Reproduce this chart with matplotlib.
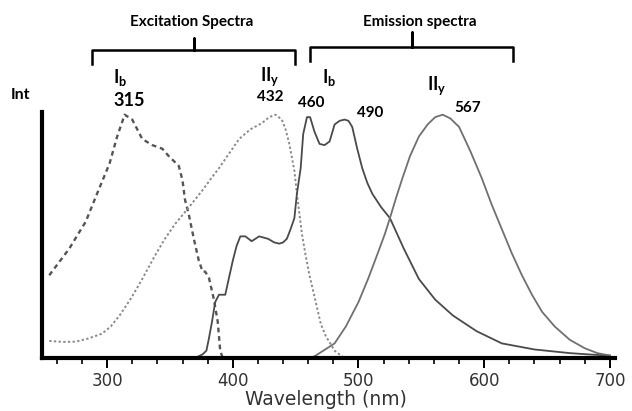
import matplotlib.pyplot as plt
from matplotlib.ticker import MultipleLocator

ex_b_nm = [254, 262, 270, 277, 283, 292, 302, 308, 314, 320, 328, 336, 344, 349, 357, 360, 362, 365, 369, 373, 376, 378, 381, 385, 388, 390, 392]
ex_b_int = [0.34, 0.395, 0.45, 0.51, 0.56, 0.675, 0.80, 0.91, 1.00, 0.98, 0.90, 0.875, 0.86, 0.83, 0.79, 0.73, 0.65, 0.59, 0.49, 0.40, 0.355, 0.355, 0.33, 0.24, 0.15, 0.03, 0.0]

ex_y_nm = [254, 265, 275, 285, 296, 303, 310, 319, 328, 338, 346, 354, 362, 369, 376, 383, 389, 397, 405, 414, 423, 429, 434, 439, 442, 445, 449, 451, 455, 458, 461, 466, 470, 474, 481, 486, 489]
ex_y_int = [0.07, 0.066, 0.067, 0.08, 0.10, 0.13, 0.175, 0.245, 0.325, 0.42, 0.49, 0.55, 0.60, 0.645, 0.69, 0.74, 0.78, 0.84, 0.90, 0.94, 0.965, 0.99, 1.00, 0.98, 0.94, 0.88, 0.77, 0.675, 0.51, 0.42, 0.34, 0.23, 0.14, 0.09, 0.03, 0.01, 0.0]

em_b_nm = [366, 372, 376, 379, 381, 383.5, 386, 389, 394, 397, 400, 403, 406, 410, 415, 418, 421, 428, 433, 437, 440, 443, 446, 449, 451, 454, 456, 459, 461.5, 465, 469, 473, 477, 481, 485, 489, 492, 495, 499, 503, 507, 511, 518, 525, 536, 548, 561, 575, 594, 614, 640, 668, 685, 700]
em_b_int = [0.0, 0.005, 0.015, 0.03, 0.08, 0.15, 0.23, 0.26, 0.26, 0.33, 0.40, 0.46, 0.50, 0.50, 0.48, 0.49, 0.50, 0.49, 0.475, 0.47, 0.475, 0.49, 0.53, 0.575, 0.675, 0.78, 0.92, 0.99, 0.99, 0.93, 0.88, 0.875, 0.89, 0.96, 0.975, 0.98, 0.975, 0.95, 0.86, 0.78, 0.72, 0.675, 0.62, 0.575, 0.45, 0.325, 0.24, 0.175, 0.11, 0.06, 0.035, 0.02, 0.014, 0.01]

em_y_nm = [462, 466, 472, 481, 490, 500, 508, 516, 521, 525, 530, 535, 541, 548, 555, 561, 567, 573, 580, 589, 598, 606, 614, 622, 630, 638, 646, 656, 668, 680, 690, 700]
em_y_int = [0.0, 0.01, 0.03, 0.06, 0.13, 0.23, 0.33, 0.44, 0.51, 0.575, 0.66, 0.74, 0.83, 0.91, 0.96, 0.99, 1.00, 0.985, 0.95, 0.85, 0.74, 0.63, 0.53, 0.43, 0.34, 0.26, 0.19, 0.13, 0.075, 0.04, 0.02, 0.01]

fig = plt.figure(figsize=(6.32, 4.11), dpi=100)
ax = fig.add_axes([0.066, 0.129, 0.907, 0.599])

ax.plot(ex_b_nm, ex_b_int, color='#555555', lw=1.7, ls=(0, (2.0, 1.6)))
ax.plot(ex_y_nm, ex_y_int, color='#8a8a8a', lw=1.4, ls=(0, (1.2, 1.2)))
ax.plot(em_b_nm, em_b_int, color='#4a4a4a', lw=1.3)
ax.plot(em_y_nm, em_y_int, color='#707070', lw=1.3)

ax.set_xlim(248, 704)
ax.set_ylim(0, 1.012)
ax.xaxis.set_major_locator(MultipleLocator(100))
ax.xaxis.set_minor_locator(MultipleLocator(20))
ax.set_yticks([])
for s in ['top', 'right']:
    ax.spines[s].set_visible(False)
ax.spines['left'].set_linewidth(3)
ax.spines['bottom'].set_linewidth(3)
ax.tick_params(axis='x', which='major', length=7, width=1.4, direction='out',
               labelsize=12, labelcolor='#333333', pad=3)
ax.tick_params(axis='x', which='minor', length=4, width=1.2, direction='out')

W, H = 632, 411
ax.set_xlabel('Wavelength (nm)', fontsize=13.5, color='#333333', va='center')
ax.xaxis.set_label_coords(326 / W, 1 - 399 / H, transform=fig.transFigure)

# annotations in figure pixel coordinates
def ftext(x, y, s, size=10, **kw):
    fig.text(x / W, 1 - y / H, s, fontsize=size, family='Lato', fontweight='bold',
             ha='center', va='center', **kw)

ftext(192, 22, 'Excitation Spectra', 11)
ftext(420, 22, 'Emission spectra', 11)

def bracket(x0, x1, ytop, ybot, ymid):
    xm = (x0 + x1) / 2
    xs = [x0, x0, xm, xm, xm, x1, x1]
    ys = [ybot, ytop, ytop, ymid, ytop, ytop, ybot]
    fig.add_artist(plt.Line2D([x / W for x in xs], [1 - y / H for y in ys],
                              color='black', lw=1.8, solid_joinstyle='round'))

bracket(92, 295, 50, 64, 38)
bracket(310, 513, 47, 61, 32)

ftext(120, 77, r'I$_{\mathregular{b}}$', 13)
ftext(270, 77, r'II$_{\mathregular{y}}$', 13)
ftext(329, 77, r'I$_{\mathregular{b}}$', 13)
ftext(437, 86, r'II$_{\mathregular{y}}$', 13)
ftext(129, 100, '315', 13)
ftext(270, 97, '432', 11)
ftext(20, 95, 'Int', 11.5)
ftext(311, 103, '460', 11)
ftext(370, 113, '490', 11)
ftext(468, 108, '567', 11)

fig.savefig('out.png', dpi=100)
